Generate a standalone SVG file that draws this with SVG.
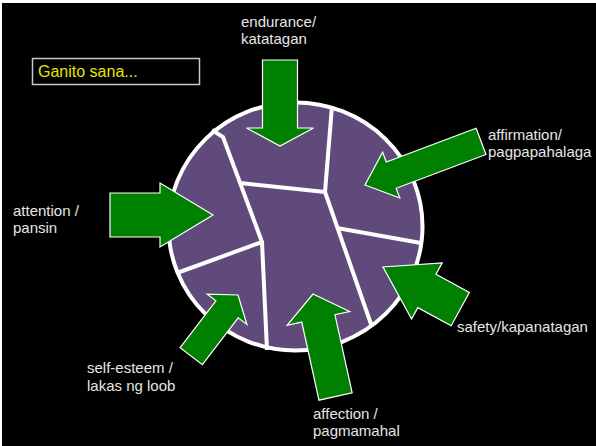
<svg xmlns="http://www.w3.org/2000/svg" width="596" height="446" viewBox="0 0 596 446">
  <style>
    .lbl { font-family: "Liberation Sans", Arial, sans-serif; font-size: 15px; fill: #e6e6e6; }
    .arrow { fill: #008000; stroke: #ffffff; stroke-width: 1.2; stroke-linejoin: miter; }
    .crack { fill: none; stroke: #ffffff; stroke-width: 4; stroke-linejoin: miter; }
  </style>
  <rect x="0" y="0" width="596" height="446" fill="#ffffff"/>
  <rect x="2" y="3" width="594" height="443" fill="#000000"/>

  <g id="title">
    <rect x="32.5" y="58.5" width="167" height="26" fill="#000000" stroke="#c8c8c8" stroke-width="1.5"/>
    <text x="38" y="77" font-family="Liberation Sans, Arial, sans-serif" font-size="16" fill="#e6e600">Ganito sana...</text>
  </g>

  <g id="heart">
    <ellipse cx="295.5" cy="226.5" rx="127" ry="124" fill="#604a7b" stroke="#ffffff" stroke-width="4"/>
    <path class="crack" d="M212,130 L223,137 L262,242 L267,350"/>
    <path class="crack" d="M240,183 L325,192"/>
    <path class="crack" d="M332,106 L325,192 L372,327"/>
    <path class="crack" d="M337,228 L421,243"/>
    <path class="crack" d="M262,242 L177,273"/>
  </g>

  <g id="connectors">
    <polygon class="arrow" transform="translate(280,146) rotate(90)" points="-86,-17.5 -18,-17.5 -18,-33.5 0,0 -18,33.5 -18,17.5 -86,17.5"/>
    <polygon class="arrow" transform="translate(213,215)" points="-103,-22 -53,-22 -53,-32 0,0 -53,32 -53,22 -103,22"/>
    <polygon class="arrow" transform="translate(365,185) rotate(159.4)" points="-124,-14 -28,-14 -28,-24.5 0,0 -28,24.5 -28,14 -124,14"/>
    <polygon class="arrow" transform="translate(383,267) rotate(208.6)" points="-88,-19 -50,-19 -50,-32 0,0 -50,32 -50,19 -88,19"/>
    <polygon class="arrow" transform="translate(238,295) rotate(-52.6)" points="-77,-14 -18,-14 -18,-25 0,0 -18,25 -18,14 -77,14"/>
    <polygon class="arrow" transform="translate(313,294) rotate(-102.4)" points="-105,-17 -25,-17 -25,-32 0,0 -25,32 -25,17 -105,17"/>
  </g>

  <g id="endurance">
    <text class="lbl" x="241" y="27">endurance/</text>
    <text class="lbl" x="241" y="44">katatagan</text>
  </g>
  <g id="affirmation">
    <text class="lbl" x="488" y="140">affirmation/</text>
    <text class="lbl" x="488" y="157">pagpapahalaga</text>
  </g>
  <g id="attention">
    <text class="lbl" x="13" y="216">attention /</text>
    <text class="lbl" x="13" y="233">pansin</text>
  </g>
  <g id="safety">
    <text class="lbl" x="457" y="332">safety/kapanatagan</text>
  </g>
  <g id="self-esteem">
    <text class="lbl" x="87" y="373">self-esteem /</text>
    <text class="lbl" x="87" y="391">lakas ng loob</text>
  </g>
  <g id="affection">
    <text class="lbl" x="313" y="419">affection /</text>
    <text class="lbl" x="313" y="436">pagmamahal</text>
  </g>
</svg>
